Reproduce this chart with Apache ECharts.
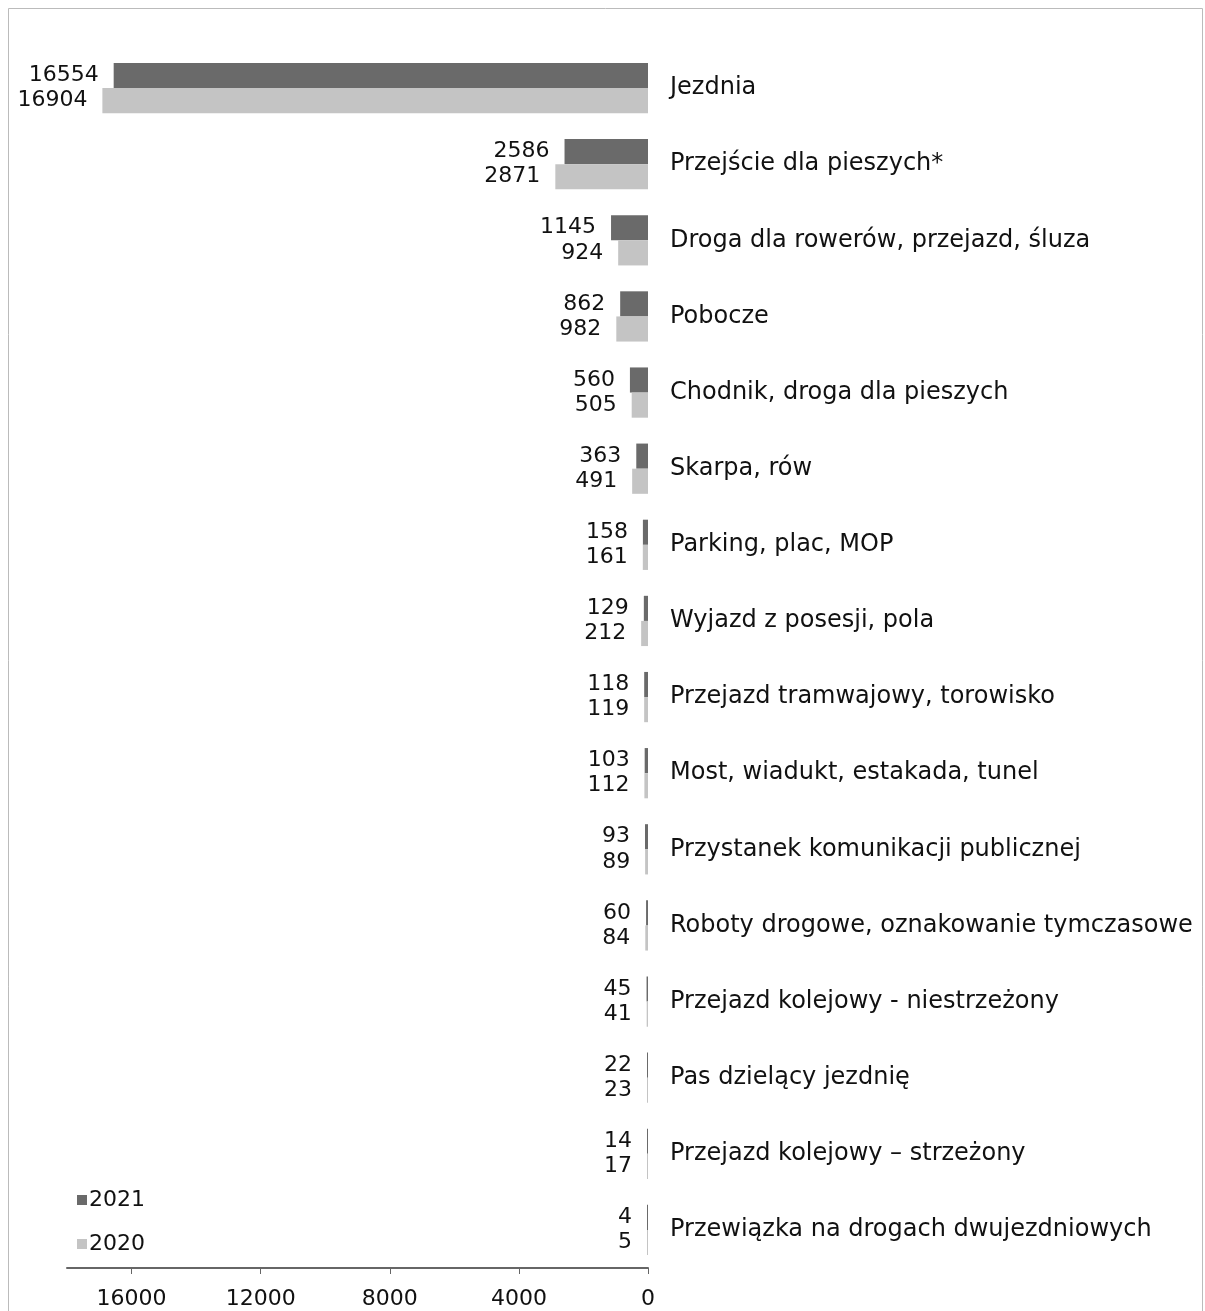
<!DOCTYPE html>
<html><head><meta charset="utf-8">
<script src="https://cdn.jsdelivr.net/npm/echarts@6/dist/echarts.min.js"></script>
<style>html,body{margin:0;padding:0;background:#fff}#c{width:1205px;height:1311px}</style>
</head><body><div id="c"></div>
<script>
const categories = ["Jezdnia","Przejście dla pieszych*","Droga dla rowerów, przejazd, śluza","Pobocze","Chodnik, droga dla pieszych","Skarpa, rów","Parking, plac, MOP","Wyjazd z posesji, pola","Przejazd tramwajowy, torowisko","Most, wiadukt, estakada, tunel","Przystanek komunikacji publicznej","Roboty drogowe, oznakowanie tymczasowe","Przejazd kolejowy - niestrzeżony","Pas dzielący jezdnię","Przejazd kolejowy – strzeżony","Przewiązka na drogach dwujezdniowych"];
const values2021 = [16554,2586,1145,862,560,363,158,129,118,103,93,60,45,22,14,4];
const values2020 = [16904,2871,924,982,505,491,161,212,119,112,89,84,41,23,17,5];
const tickValues = [0,4000,8000,12000,16000];

const chart = echarts.init(document.getElementById('c'));
const font = 'DejaVu Sans, Verdana, sans-serif';
const lbl = {show:true, position:'left', distance:15, color:'#111', fontSize:22, fontFamily:font};
chart.setOption({
  animation:false,
  graphic:[{type:'rect', shape:{x:8.5,y:8.5,width:1194,height:1320}, style:{fill:'none', stroke:'#bbb', lineWidth:1}}],
  legend:{orient:'vertical', left:72, top:1184, itemWidth:10, itemHeight:10, itemGap:22, icon:'rect',
    textStyle:{fontSize:22, fontFamily:font, color:'#111', padding:[0,0,0,-3]},
    data:['2021','2020']},
  grid:{left:67, right:557, top:50, bottom:43},
  xAxis:{type:'value', inverse:true, min:0, max:18000, interval:4000,
    axisLine:{show:true, lineStyle:{color:'#666', width:2}},
    axisTick:{show:true, length:6, customValues:tickValues, lineStyle:{color:'#666'}},
    axisLabel:{customValues:tickValues, formatter:v=>String(v), fontSize:22, fontFamily:font, color:'#111', margin:20},
    splitLine:{show:false}},
  yAxis:{type:'category', data:categories, inverse:true, position:'right',
    axisLine:{show:false}, axisTick:{show:false},
    axisLabel:{fontSize:24, fontFamily:font, color:'#111', margin:22, align:'left'}},
  series:[
    {name:'2021', type:'bar', data:values2021, barGap:'0%', barCategoryGap:'34%', barMinHeight:1,
     itemStyle:{color:'#6a6a6a'}, label:lbl},
    {name:'2020', type:'bar', data:values2020, barGap:'0%', barCategoryGap:'34%', barMinHeight:1,
     itemStyle:{color:'#c4c4c4'}, label:lbl}
  ]
});
</script></body></html>
